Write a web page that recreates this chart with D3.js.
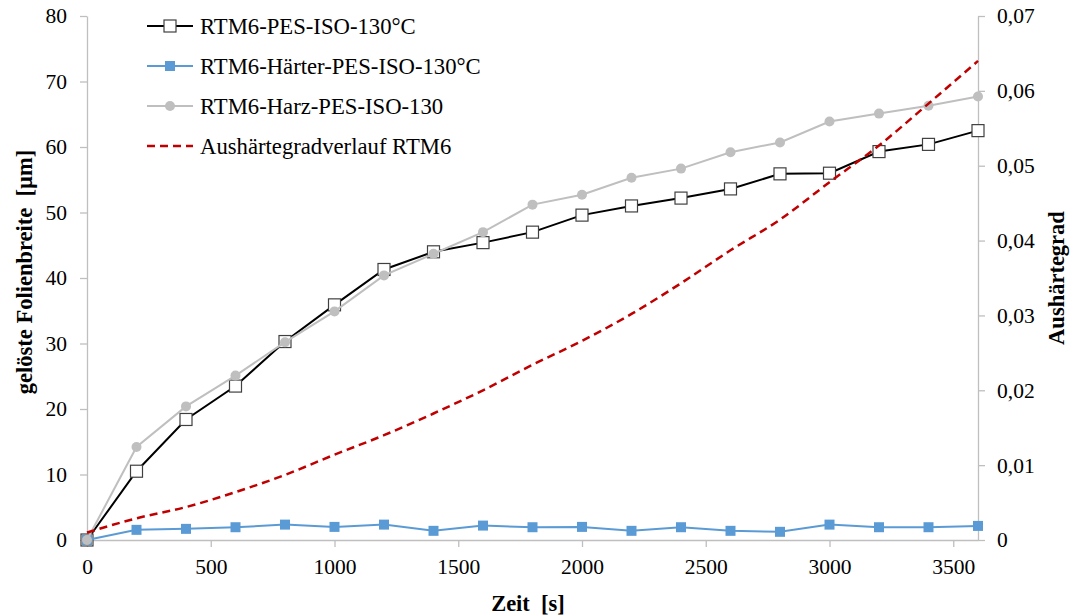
<!DOCTYPE html>
<html><head><meta charset="utf-8">
<script src="https://cdn.jsdelivr.net/npm/d3@7"></script>
<style>
html,body{margin:0;padding:0;background:#fff;}
</style></head>
<body>
<svg id="chart" width="1070" height="616"></svg>
<script>
const times = [0,200,400,600,800,1000,1200,1400,1600,1800,2000,2200,2400,2600,2800,3000,3200,3400,3600];
const pesIso = [0,10.5,18.4,23.5,30.3,35.9,41.3,44.0,45.4,47.0,49.6,51.0,52.2,53.6,55.9,56.0,59.3,60.4,62.5];
const haerterPesIso = [0,1.55,1.7,1.95,2.35,2.0,2.35,1.4,2.2,1.95,2.0,1.4,1.95,1.4,1.25,2.35,1.95,1.95,2.15];
const harzPesIso = [0,14.2,20.4,25.1,30.2,34.9,40.4,43.7,47.0,51.2,52.7,55.3,56.7,59.2,60.7,63.9,65.1,66.3,67.7];
const aushaertegrad = [0.001,0.0029,0.0044,0.0064,0.0087,0.0114,0.0140,0.0169,0.0200,0.0234,0.0266,0.0302,0.0343,0.0387,0.0428,0.0478,0.0527,0.0583,0.0640];

const seriesNames = ["RTM6-PES-ISO-130°C","RTM6-Härter-PES-ISO-130°C","RTM6-Harz-PES-ISO-130","Aushärtegradverlauf RTM6"];
const xTicks = [0,500,1000,1500,2000,2500,3000,3500];
const yLeftTicks = [0,10,20,30,40,50,60,70,80];
const yRightTicks = [0,0.01,0.02,0.03,0.04,0.05,0.06,0.07];
const xTitle = "Zeit  [s]";
const yLeftTitle = "gelöste Folienbreite  [µm]";
const yRightTitle = "Aushärtegrad";

const FONT = "'Liberation Serif', 'Times New Roman', serif";
const svg = d3.select("#chart");
const L = 87, R = 978, T = 16, B = 540;
const x = d3.scaleLinear().domain([0,3600]).range([L,R]);
const yL = d3.scaleLinear().domain([0,80]).range([B,T]);
const yR = d3.scaleLinear().domain([0,0.07]).range([B,T]);
const axisColor = "#bfbfbf";
const fmtR = d => d===0 ? "0" : d.toFixed(2).replace(".", ",");

function styleAxis(g){
  g.selectAll("path").attr("stroke",axisColor).attr("stroke-width",1.3);
  g.selectAll("line").attr("stroke",axisColor).attr("stroke-width",1.3);
  g.selectAll("text").style("font-size","21.5px").style("fill","#000").style("font-family",FONT);
}

const gx = svg.append("g").attr("transform",`translate(0,${B})`)
  .call(d3.axisBottom(x).tickValues(xTicks).tickSize(7).tickSizeOuter(0).tickPadding(12).tickFormat(d3.format("d")));
styleAxis(gx);
const gyl = svg.append("g").attr("transform",`translate(${L},0)`)
  .call(d3.axisLeft(yL).tickValues(yLeftTicks).tickSize(7).tickSizeOuter(0).tickPadding(13).tickFormat(d3.format("d")));
styleAxis(gyl);
const gyr = svg.append("g").attr("transform",`translate(${R},0)`)
  .call(d3.axisRight(yR).tickValues(yRightTicks).tickSize(7).tickSizeOuter(0).tickPadding(12).tickFormat(fmtR));
styleAxis(gyr);

// titles
function title(sel){
  return sel.style("font-family",FONT).style("font-size","22.5px").style("font-weight","bold")
    .style("white-space","pre").attr("text-anchor","middle").attr("fill","#000");
}
title(svg.append("text")).attr("x",528).attr("y",611).text(xTitle);
title(svg.append("text")).attr("transform","translate(24,272) rotate(-90)").attr("dy","0.35em").text(yLeftTitle);
title(svg.append("text")).attr("transform","translate(1056,278) rotate(-90)").attr("dy","0.35em").text(yRightTitle);

const lineL = arr => d3.line().x((d,i)=>x(times[i])).y(d=>yL(d))(arr);

// black series
svg.append("path").attr("d",lineL(pesIso)).attr("fill","none").attr("stroke","#000").attr("stroke-width",2);
svg.append("g").selectAll("rect").data(pesIso).join("rect")
  .attr("x",(d,i)=>x(times[i])-6).attr("y",d=>yL(d)-6).attr("width",12).attr("height",12)
  .attr("fill","#fff").attr("stroke","#404040").attr("stroke-width",1.2);

// blue series
svg.append("path").attr("d",lineL(haerterPesIso)).attr("fill","none").attr("stroke","#5b9bd5").attr("stroke-width",2);
svg.append("g").selectAll("rect").data(haerterPesIso).join("rect")
  .attr("x",(d,i)=>x(times[i])-5).attr("y",d=>yL(d)-5).attr("width",10).attr("height",10)
  .attr("fill","#5b9bd5");

// grey series
svg.append("path").attr("d",lineL(harzPesIso)).attr("fill","none").attr("stroke","#bfbfbf").attr("stroke-width",2);
svg.append("g").selectAll("circle").data(harzPesIso).join("circle")
  .attr("cx",(d,i)=>x(times[i])).attr("cy",d=>yL(d)).attr("r",5).attr("fill","#bfbfbf");

// red dashed curve
const lineR = d3.line().x((d,i)=>x(times[i])).y(d=>yR(d)).curve(d3.curveMonotoneX);
svg.append("path").attr("d",lineR(aushaertegrad)).attr("fill","none").attr("stroke","#c00000")
  .attr("stroke-width",2.5).attr("stroke-dasharray","8,5");

// legend
const legY = [26,66,106,146];
const lg = svg.append("g");
const lx1 = 147, lx2 = 193, lxc = 170;
lg.append("line").attr("x1",lx1).attr("x2",lx2).attr("y1",legY[0]).attr("y2",legY[0]).attr("stroke","#000").attr("stroke-width",2);
lg.append("rect").attr("x",lxc-6).attr("y",legY[0]-6).attr("width",12).attr("height",12).attr("fill","#fff").attr("stroke","#404040").attr("stroke-width",1.2);
lg.append("line").attr("x1",lx1).attr("x2",lx2).attr("y1",legY[1]).attr("y2",legY[1]).attr("stroke","#5b9bd5").attr("stroke-width",2);
lg.append("rect").attr("x",lxc-5).attr("y",legY[1]-5).attr("width",10).attr("height",10).attr("fill","#5b9bd5");
lg.append("line").attr("x1",lx1).attr("x2",lx2).attr("y1",legY[2]).attr("y2",legY[2]).attr("stroke","#bfbfbf").attr("stroke-width",2);
lg.append("circle").attr("cx",lxc).attr("cy",legY[2]).attr("r",5).attr("fill","#bfbfbf");
lg.append("line").attr("x1",lx1).attr("x2",lx2).attr("y1",legY[3]).attr("y2",legY[3]).attr("stroke","#c00000").attr("stroke-width",2.5).attr("stroke-dasharray","8,5");
lg.selectAll("text.leg").data(seriesNames).join("text").attr("class","leg")
  .attr("x",200).attr("y",(d,i)=>legY[i]).attr("dy","0.35em")
  .style("font-family",FONT).style("font-size","22.7px").style("fill","#000").text(d=>d);
</script>
</body></html>
